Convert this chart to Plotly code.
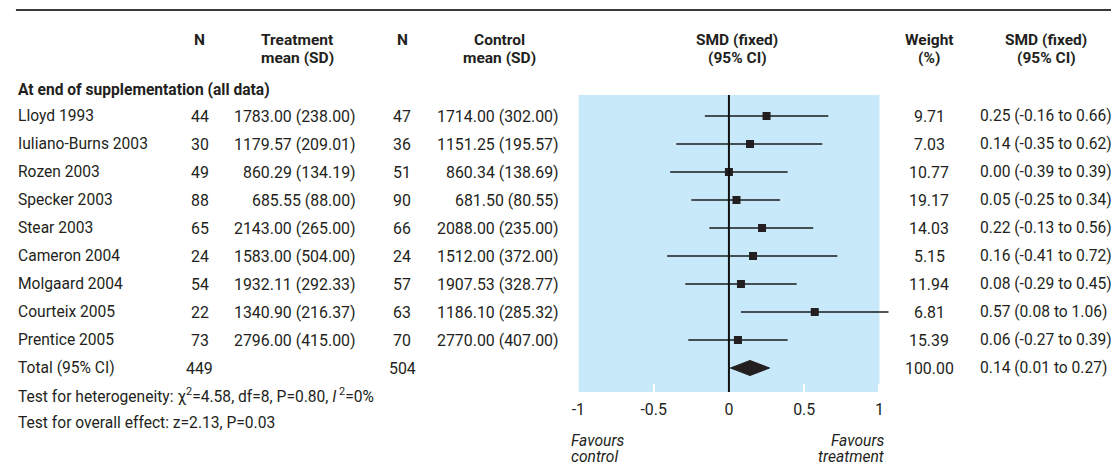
import plotly.graph_objects as go

# ---------------- data ----------------
studies = ["Lloyd 1993", "Iuliano-Burns 2003", "Rozen 2003", "Specker 2003", "Stear 2003",
           "Cameron 2004", "Molgaard 2004", "Courteix 2005", "Prentice 2005"]
n_treat = [44, 30, 49, 88, 65, 24, 54, 22, 73]
mean_treat = [1783.00, 1179.57, 860.29, 685.55, 2143.00, 1583.00, 1932.11, 1340.90, 2796.00]
sd_treat = [238.00, 209.01, 134.19, 88.00, 265.00, 504.00, 292.33, 216.37, 415.00]
n_ctrl = [47, 36, 51, 90, 66, 24, 57, 63, 70]
mean_ctrl = [1714.00, 1151.25, 860.34, 681.50, 2088.00, 1512.00, 1907.53, 1186.10, 2770.00]
sd_ctrl = [302.00, 195.57, 138.69, 80.55, 235.00, 372.00, 328.77, 285.32, 407.00]
smd = [0.25, 0.14, 0.00, 0.05, 0.22, 0.16, 0.08, 0.57, 0.06]
ci_low = [-0.16, -0.35, -0.39, -0.25, -0.13, -0.41, -0.29, 0.08, -0.27]
ci_high = [0.66, 0.62, 0.39, 0.34, 0.56, 0.72, 0.45, 1.06, 0.39]
weights = [9.71, 7.03, 10.77, 19.17, 14.03, 5.15, 11.94, 6.81, 15.39]

total_label = "Total (95% CI)"
total_n_treat = 449
total_n_ctrl = 504
total_weight = 100.00
total_smd = 0.14
total_low = 0.01
total_high = 0.27

section_label = "At end of supplementation (all data)"
heterogeneity_text = "Test for heterogeneity: \u03c7<sup>2</sup>=4.58, df=8, P=0.80, <i>I</i><sup> 2</sup>=0%"
overall_text = "Test for overall effect: z=2.13, P=0.03"
tick_values = [-1, -0.5, 0, 0.5, 1]
tick_labels = ["-1", "-0.5", "0", "0.5", "1"]

# ---------------- layout constants ----------------
W, H = 1111, 466
FONT = "Roboto, 'Liberation Sans Narrow', sans-serif"
TXT = "#231f20"
FS = 15.6
FSN = 15.9
BLUE = "#c7e9f9"

ROW0 = 116.0      # pixel y of first study row
ROWH = 28.0       # row spacing
PLOT_TOP, PLOT_BOT = 95.0, 392.0
X_M1, X_P1 = 575.0, 878.0   # pixel x of -1 and +1
px_per_unit = (X_P1 - X_M1) / 2.0
XMAX = 1.15
x_right_px = X_M1 + (XMAX + 1) * px_per_unit

y_top = (PLOT_TOP - ROW0) / ROWH
y_bot = (PLOT_BOT - ROW0) / ROWH


def px(x):
    return x / W


def py(y):
    return 1 - y / H


fig = go.Figure()

n = len(studies)
rows = list(range(n))
total_row = n

# CI lines
xs, ys = [], []
for i in rows:
    xs += [ci_low[i], ci_high[i], None]
    ys += [i, i, None]
fig.add_trace(go.Scatter(x=xs, y=ys, mode="lines", line=dict(color="#1a1a1a", width=1.5),
                         hoverinfo="skip", showlegend=False))
# squares
fig.add_trace(go.Scatter(x=smd, y=rows, mode="markers",
                         marker=dict(symbol="square", size=8, color="#231f20"),
                         showlegend=False, hoverinfo="skip"))
# diamond
dh = 0.27
fig.add_trace(go.Scatter(x=[total_low, total_smd, total_high, total_smd, total_low],
                         y=[total_row, total_row - dh, total_row, total_row + dh, total_row],
                         mode="lines", fill="toself", fillcolor="#231f20",
                         line=dict(color="#231f20", width=1), showlegend=False, hoverinfo="skip"))

shapes = []
# blue background panel
shapes.append(dict(type="rect", xref="x", yref="y domain", x0=-1, x1=1, y0=0, y1=1,
                   fillcolor=BLUE, line=dict(width=0), layer="below"))
# zero line
shapes.append(dict(type="line", xref="x", yref="y domain", x0=0, x1=0, y0=0, y1=1,
                   line=dict(color="#111", width=2), layer="above"))
# top rule
shapes.append(dict(type="line", xref="paper", yref="paper", x0=px(9), x1=1.0, y0=py(10), y1=py(10),
                   line=dict(color="#3a3a3a", width=2)))

ann = []


def add(text, x, y, xanchor="left", yref="paper", bold=False, italic=False, size=FS):
    if bold:
        text = "<b>" + text + "</b>"
    if italic:
        text = "<i>" + text + "</i>"
    ann.append(dict(text=text, x=x, y=y, xref="paper", yref=yref, xanchor=xanchor, yanchor="middle",
                    showarrow=False, font=dict(family=FONT, size=size, color=TXT)))


# headers
HB = 15.5
add("N", px(194), py(40), "center", bold=True, size=HB)
add("Treatment", px(292), py(40), "center", bold=True, size=HB)
add("mean (SD)", px(292), py(57.5), "center", bold=True, size=HB)
add("N", px(398), py(40), "center", bold=True, size=HB)
add("Control", px(496), py(40), "center", bold=True, size=HB)
add("mean (SD)", px(496), py(57.5), "center", bold=True, size=HB)
add("SMD (fixed)", px(735), py(40), "center", bold=True, size=HB)
add("(95% CI)", px(735), py(57.5), "center", bold=True, size=HB)
add("Weight", px(928), py(40), "center", bold=True, size=HB)
add("(%)", px(928), py(57.5), "center", bold=True, size=HB)
add("SMD (fixed)", px(1046), py(40), "center", bold=True, size=HB)
add("(95% CI)", px(1046), py(57.5), "center", bold=True, size=HB)

add(section_label, px(9), py(90), "left", bold=True)

for i in rows:
    add(studies[i], px(9), i, "left", yref="y")
    add(str(n_treat[i]), px(194), i, "center", yref="y", size=FSN)
    add(f"{mean_treat[i]:.2f} ({sd_treat[i]:.2f})", px(353), i, "right", yref="y", size=FSN)
    add(str(n_ctrl[i]), px(398), i, "center", yref="y", size=FSN)
    add(f"{mean_ctrl[i]:.2f} ({sd_ctrl[i]:.2f})", px(558), i, "right", yref="y", size=FSN)
    add(f"{weights[i]:.2f}", px(928), i, "center", yref="y", size=FSN)
    add(f"{smd[i]:.2f} ({ci_low[i]:.2f} to {ci_high[i]:.2f})", px(977), i, "left", yref="y")

add(total_label, px(9), total_row, "left", yref="y")
add(str(total_n_treat), px(194), total_row, "center", yref="y", size=FSN)
add(str(total_n_ctrl), px(398), total_row, "center", yref="y", size=FSN)
add(f"{total_weight:.2f}", px(928), total_row, "center", yref="y", size=FSN)
add(f"{total_smd:.2f} ({total_low:.2f} to {total_high:.2f})", px(977), total_row, "left", yref="y")

add(heterogeneity_text, px(9), py(395), "left")
add(overall_text, px(9), py(423), "left")

add("Favours", px(566), py(441), "left", italic=True)
add("control", px(566), py(457), "left", italic=True)
add("Favours", px(886), py(441), "right", italic=True)
add("treatment", px(886), py(457), "right", italic=True)

fig.update_layout(
    width=W, height=H, margin=dict(l=0, r=0, t=0, b=0),
    paper_bgcolor="white", plot_bgcolor="rgba(0,0,0,0)",
    showlegend=False, shapes=shapes, annotations=ann,
    xaxis=dict(domain=[px(X_M1), px(x_right_px)], range=[-1, XMAX], tickvals=tick_values,
               ticktext=tick_labels, ticks="inside", ticklen=8, tickwidth=2, tickcolor="white",
               showgrid=False, zeroline=False, showline=False, fixedrange=True,
               tickfont=dict(family=FONT, size=FSN, color=TXT), ticklabelstandoff=6),
    yaxis=dict(domain=[py(PLOT_BOT), py(PLOT_TOP)], range=[y_bot, y_top], showticklabels=False,
               showgrid=False, zeroline=False, showline=False, ticks="", fixedrange=True),
)

fig.write_html("out.html")
